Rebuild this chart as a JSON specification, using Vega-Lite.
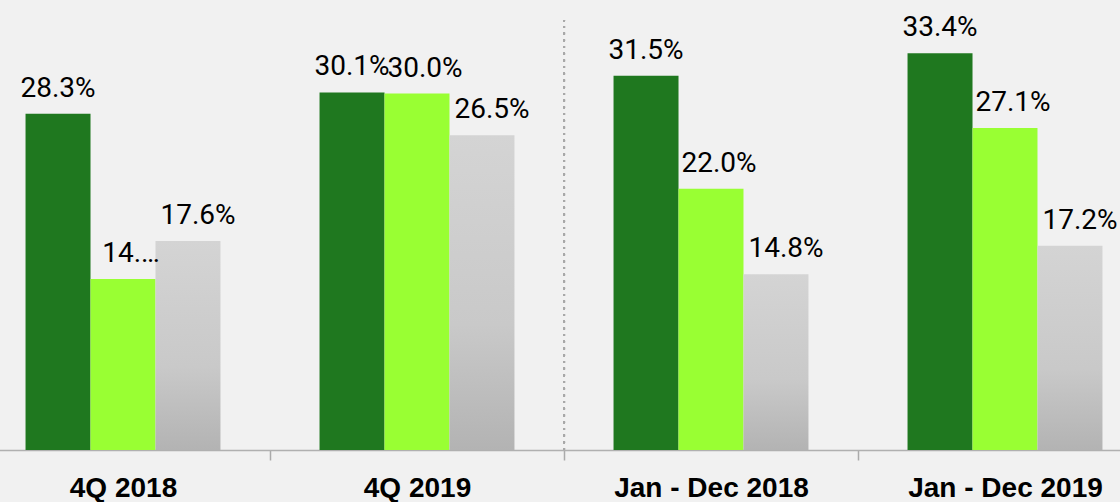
{
  "$schema": "https://vega.github.io/schema/vega-lite/v6.json",
  "autosize": "none",
  "padding": {"left": 0, "top": 0, "right": 0, "bottom": 52},
  "width": 1120,
  "height": 450,
  "background": "#f1f1f1",
  "config": {"view": {"stroke": null}},
  "data": {
    "values": [
      {"period": "4Q 2018", "s": "a", "v": 28.3, "label": "28.3%"},
      {"period": "4Q 2018", "s": "b", "v": 14.4, "label": "14.…"},
      {"period": "4Q 2018", "s": "c", "v": 17.6, "label": "17.6%"},
      {"period": "4Q 2019", "s": "a", "v": 30.1, "label": "30.1%"},
      {"period": "4Q 2019", "s": "b", "v": 30.0, "label": "30.0%"},
      {"period": "4Q 2019", "s": "c", "v": 26.5, "label": "26.5%"},
      {"period": "Jan - Dec 2018", "s": "a", "v": 31.5, "label": "31.5%"},
      {"period": "Jan - Dec 2018", "s": "b", "v": 22.0, "label": "22.0%"},
      {"period": "Jan - Dec 2018", "s": "c", "v": 14.8, "label": "14.8%"},
      {"period": "Jan - Dec 2019", "s": "a", "v": 33.4, "label": "33.4%"},
      {"period": "Jan - Dec 2019", "s": "b", "v": 27.1, "label": "27.1%"},
      {"period": "Jan - Dec 2019", "s": "c", "v": 17.2, "label": "17.2%"}
    ]
  },
  "encoding": {
    "x": {
      "field": "period",
      "type": "nominal",
      "sort": ["4Q 2018", "4Q 2019", "Jan - Dec 2018", "Jan - Dec 2019"],
      "scale": {"range": [-24, 1152], "paddingInner": 0.337, "paddingOuter": 0.1685},
      "axis": {
        "title": null,
        "labelAngle": 0,
        "labelFont": "Liberation Sans",
        "labelFontWeight": "bold",
        "labelFontSize": 28,
        "labelColor": "#000000",
        "labelPadding": 14,
        "labelLimit": 0,
        "tickOffset": 147,
        "labelOffset": -147,
        "tickSize": 10,
        "tickColor": "#aaaaaa",
        "tickWidth": 1.5,
        "domainColor": "#b0b0b0",
        "domainWidth": 1.5,
        "grid": false
      }
    },
    "xOffset": {"field": "s", "type": "nominal", "scale": {"domain": ["a", "b", "c"], "paddingInner": 0, "paddingOuter": 0}},
    "y": {
      "field": "v",
      "type": "quantitative",
      "scale": {"domain": [0, 37.88], "nice": false, "zero": true},
      "axis": null
    }
  },
  "layer": [
    {
      "transform": [{"filter": "datum.s != 'c'"}],
      "mark": {"type": "bar"},
      "encoding": {
        "color": {"field": "s", "type": "nominal", "scale": {"domain": ["a", "b"], "range": ["#1f781f", "#99ff33"]}, "legend": null}
      }
    },
    {
      "transform": [{"filter": "datum.s == 'c'"}],
      "mark": {
        "type": "bar",
        "color": {
          "gradient": "linear", "x1": 0, "y1": 0, "x2": 0, "y2": 1,
          "stops": [{"offset": 0, "color": "#d4d4d4"}, {"offset": 0.6, "color": "#c9c9c9"}, {"offset": 1, "color": "#b3b3b3"}]
        }
      }
    },
    {
      "mark": {"type": "rule", "color": "#a8a8a8", "strokeWidth": 2, "strokeDash": [2, 4.7]},
      "encoding": {
        "x": {"datum": "Jan - Dec 2018", "bandPosition": -0.254},
        "xOffset": null,
        "y": {"datum": 0},
        "y2": {"datum": 36.2}
      }
    },
    {
      "transform": [{"filter": "datum.s == 'a'"}],
      "mark": {"type": "text", "font": "Roboto", "fontSize": 28, "color": "#000000", "baseline": "alphabetic", "dy": -17},
      "encoding": {"text": {"field": "label"}}
    },
    {
      "transform": [{"filter": "datum.s == 'b'"}],
      "mark": {"type": "text", "font": "Roboto", "fontSize": 28, "color": "#000000", "baseline": "alphabetic", "dy": -17, "dx": 8},
      "encoding": {"text": {"field": "label"}}
    },
    {
      "transform": [{"filter": "datum.s == 'c'"}],
      "mark": {"type": "text", "font": "Roboto", "fontSize": 28, "color": "#000000", "baseline": "alphabetic", "dy": -17, "dx": 10},
      "encoding": {"text": {"field": "label"}}
    }
  ]
}
